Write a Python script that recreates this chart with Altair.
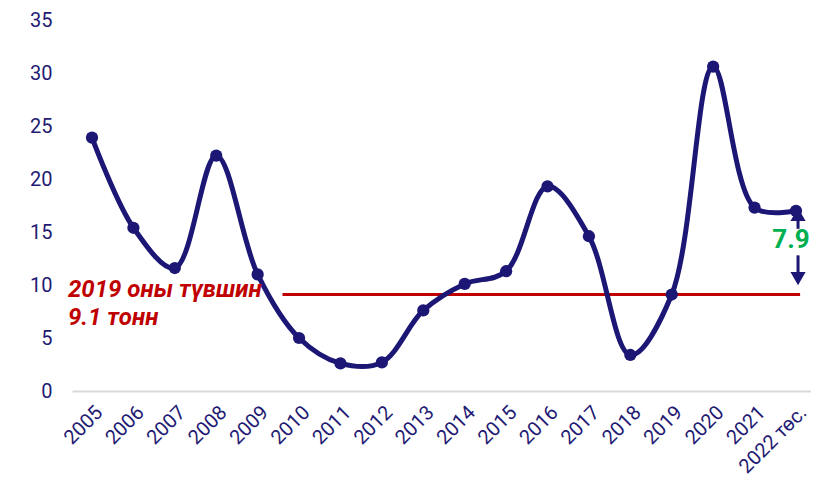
import altair as alt
import pandas as pd

# ---- data ----
labels = ["2005", "2006", "2007", "2008", "2009", "2010", "2011", "2012", "2013",
          "2014", "2015", "2016", "2017", "2018", "2019", "2020", "2021", "2022 төс."]
values = [23.9, 15.4, 11.6, 22.2, 11.0, 5.0, 2.6, 2.7, 7.6,
          10.1, 11.3, 19.3, 14.6, 3.4, 9.1, 30.6, 17.3, 17.0]

level_2019 = 9.1
level_x = [4.6, 17.1]
level_text = ["2019 оны түвшин", "9.1 тонн"]
level_text_x = [-0.58, -0.58]
level_text_y = [8.85, 6.2]

diff_label = "7.9"
diff_x = 17.05
diff_text_x = 16.88
diff_text_y = 14.25
shaft_top = [16.6, 15.3]
shaft_bottom = [12.8, 10.7]
head_up_y = 16.65
head_down_y = 10.6

NAVY = "#1C1675"
LABEL = "#231B73"
RED = "#C00000"
GREEN = "#00B050"
FONT = "Roboto"

df = pd.DataFrame({"i": list(range(len(labels))), "v": values, "lab": labels})

label_expr = "[" + ",".join("'" + s + "'" for s in labels) + "][datum.value]"

xscale = alt.Scale(domain=[-0.483, 17.363], nice=False, zero=False)
yscale = alt.Scale(domain=[0, 35], nice=False)

base = alt.Chart(df)

line = base.mark_line(interpolate="catmull-rom", color=NAVY, strokeWidth=5, clip=False).encode(
    x=alt.X("i:Q", scale=xscale,
            axis=alt.Axis(values=list(range(len(labels))), labelExpr=label_expr,
                          labelAngle=-45, labelFontSize=20, labelFont=FONT, labelColor=LABEL,
                          ticks=False, grid=False, domainColor="#D9D9D9", domainWidth=2,
                          labelPadding=11, title=None, labelOverlap=False)),
    y=alt.Y("v:Q", scale=yscale,
            axis=alt.Axis(values=[0, 5, 10, 15, 20, 25, 30, 35], labelFontSize=20, labelFont=FONT,
                          labelColor=LABEL, ticks=False, grid=False, domain=False,
                          labelPadding=20, title=None)),
)

pts = base.mark_circle(color=NAVY, size=150, opacity=1).encode(x="i:Q", y="v:Q")

lvl_df = pd.DataFrame({"x": [level_x[0]], "x2": [level_x[1]], "y": [level_2019]})
lvl = alt.Chart(lvl_df).mark_rule(color=RED, strokeWidth=3).encode(
    x="x:Q", x2="x2:Q", y="y:Q")

txt_df = pd.DataFrame({"x": level_text_x, "y": level_text_y, "t": level_text})
lvl_txt = alt.Chart(txt_df).mark_text(
    color=RED, font=FONT, fontSize=24, fontWeight="bold", fontStyle="italic",
    align="left", baseline="alphabetic").encode(x="x:Q", y="y:Q", text="t:N")

shaft_df = pd.DataFrame({"x": [diff_x, diff_x], "y": [shaft_top[0], shaft_bottom[0]],
                         "y2": [shaft_top[1], shaft_bottom[1]]})
shafts = alt.Chart(shaft_df).mark_rule(color=NAVY, strokeWidth=3).encode(
    x="x:Q", y="y:Q", y2="y2:Q")

up_df = pd.DataFrame({"x": [diff_x], "y": [head_up_y]})
head_up = alt.Chart(up_df).mark_point(shape="triangle-up", filled=True, color=NAVY,
                                      size=230, opacity=1).encode(x="x:Q", y="y:Q")
down_df = pd.DataFrame({"x": [diff_x], "y": [head_down_y]})
head_down = alt.Chart(down_df).mark_point(shape="triangle-down", filled=True, color=NAVY,
                                          size=230, opacity=1).encode(x="x:Q", y="y:Q")

d_df = pd.DataFrame({"x": [diff_text_x], "y": [diff_text_y], "t": [diff_label]})
d_txt = alt.Chart(d_df).mark_text(color=GREEN, font=FONT, fontSize=26, fontWeight="bold",
                                  align="center", baseline="middle").encode(
    x="x:Q", y="y:Q", text="t:N")

chart = alt.layer(lvl, line, pts, lvl_txt, shafts, head_up, head_down, d_txt).properties(
    width=739, height=371,
    autosize=alt.AutoSizeParams(type="none"),
    padding={"left": 64, "top": 12, "right": 0, "bottom": 90},
).configure_view(stroke=None)

chart.save("out.html", embed_options={"renderer": "svg", "actions": False})
